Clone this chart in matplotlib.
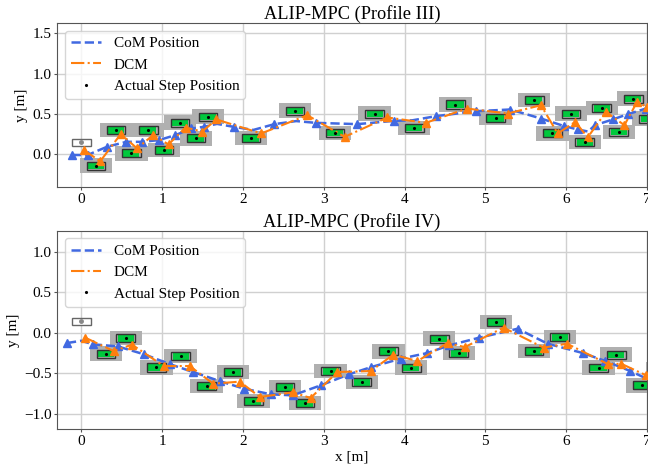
import matplotlib
matplotlib.use('Agg')
import matplotlib.pyplot as plt
from matplotlib.patches import Rectangle

plt.rcParams['font.family'] = ['Liberation Serif', 'DejaVu Serif']
plt.rcParams['font.size'] = 11

titles = ['ALIP-MPC (Profile III)', 'ALIP-MPC (Profile IV)']
legend_labels = ['CoM Position', 'DCM', 'Actual Step Position']
x_label = 'x [m]'
y_label = 'y [m]'

init_step_x = [0.0, 0.0]
init_step_y = [0.145, 0.14]

# ---------------- Profile III ----------------
top_step_x = [0.18, 0.43, 0.62, 0.83, 1.026, 1.22, 1.42, 1.57, 2.10, 2.645, 3.14, 3.63,
              4.12, 4.63, 5.126, 5.605, 5.83, 6.06, 6.23, 6.44, 6.65, 6.83, 7.02]
top_step_y = [-0.145, 0.30, 0.008, 0.30, 0.05, 0.39, 0.195, 0.465, 0.20, 0.54, 0.264, 0.504,
              0.326, 0.616, 0.446, 0.67, 0.256, 0.504, 0.15, 0.57, 0.276, 0.69, 0.44]

top_com_x = [-0.116, 0.078, 0.318, 0.558, 0.752, 0.958, 1.165, 1.363, 1.516, 1.68, 1.888,
             2.13, 2.39, 2.66, 2.90, 3.416, 3.87, 4.10, 4.387, 4.88, 5.307, 5.688, 5.977,
             6.142, 6.27, 6.357, 6.576, 6.762, 7.0]
top_com_y = [-0.012, -0.012, 0.09, 0.152, 0.152, 0.173, 0.235, 0.318, 0.338, 0.375, 0.338,
             0.30, 0.372, 0.41, 0.388, 0.372, 0.413, 0.42, 0.471, 0.533, 0.554, 0.442, 0.347,
             0.306, 0.28, 0.359, 0.43, 0.496, 0.57]
top_com_mark_x = [-0.116, 0.078, 0.318, 0.558, 0.752, 0.958, 1.165, 1.363, 1.516, 1.888,
                  2.39, 2.90, 3.416, 3.87, 4.387, 4.88, 5.307, 5.688, 5.977, 6.142, 6.357,
                  6.576, 6.762, 6.99]
top_com_mark_y = [-0.012, -0.012, 0.09, 0.152, 0.152, 0.173, 0.235, 0.318, 0.338, 0.338,
                  0.372, 0.388, 0.372, 0.413, 0.471, 0.533, 0.554, 0.442, 0.347, 0.306, 0.359,
                  0.43, 0.496, 0.566]

top_dcm_x = [0.03, 0.235, 0.49, 0.69, 0.888, 1.08, 1.29, 1.495, 1.673, 2.227, 2.797, 3.259,
             3.788, 4.263, 4.771, 5.275, 5.688, 5.895, 6.113, 6.266, 6.493, 6.72, 6.877, 7.0]
top_dcm_y = [0.05, -0.09, 0.25, 0.07, 0.235, 0.12, 0.33, 0.28, 0.43, 0.256, 0.483, 0.214,
             0.455, 0.388, 0.566, 0.504, 0.607, 0.256, 0.40, 0.207, 0.524, 0.359, 0.648, 0.586]

# ---------------- Profile IV ----------------
bot_step_x = [0.307, 0.55, 0.93, 1.23, 1.55, 1.88, 2.13, 2.52, 2.77, 3.085, 3.47, 3.80,
              4.083, 4.43, 4.67, 5.134, 5.60, 5.92, 6.40, 6.62, 6.94, 7.19]
bot_step_y = [-0.26, -0.066, -0.43, -0.29, -0.659, -0.486, -0.844, -0.67, -0.87, -0.474,
              -0.61, -0.231, -0.432, -0.074, -0.25, 0.131, -0.227, -0.054, -0.432, -0.272,
              -0.65, -0.45]

bot_com_x = [-0.177, 0.0, 0.145, 0.45, 0.78, 1.103, 1.384, 1.722, 2.011, 2.35, 2.618, 2.962,
             3.312, 3.59, 3.953, 4.284, 4.552, 4.923, 5.15, 5.399, 5.77, 6.204, 6.485, 6.794,
             7.0]
bot_com_y = [-0.128, -0.10, -0.144, -0.169, -0.268, -0.391, -0.486, -0.601, -0.691, -0.762,
             -0.774, -0.651, -0.515, -0.424, -0.321, -0.251, -0.157, -0.062, -0.01, 0.049,
             -0.136, -0.251, -0.35, -0.474, -0.57]
bot_com_mark_x = [-0.177, 0.145, 0.45, 0.78, 1.103, 1.384, 1.722, 2.011, 2.35, 2.618, 2.962,
                  3.312, 3.59, 3.953, 4.284, 4.552, 4.923, 5.399, 5.77, 6.204, 6.485, 6.794]
bot_com_mark_y = [-0.128, -0.144, -0.169, -0.268, -0.391, -0.486, -0.601, -0.691, -0.762,
                  -0.774, -0.651, -0.515, -0.424, -0.321, -0.251, -0.157, -0.062, 0.049,
                  -0.136, -0.251, -0.35, -0.474]

bot_dcm_x = [0.05, 0.40, 0.628, 1.02, 1.342, 1.632, 1.962, 2.21, 2.618, 2.838, 3.168, 3.581,
             3.862, 4.16, 4.532, 4.746, 5.225, 5.721, 6.01, 6.522, 6.679, 6.989]
bot_dcm_y = [-0.062, -0.227, -0.148, -0.412, -0.412, -0.63, -0.605, -0.795, -0.737, -0.807,
             -0.486, -0.474, -0.272, -0.35, -0.128, -0.178, 0.062, -0.185, -0.136, -0.391,
             -0.383, -0.527]

top_yticks = [0.0, 0.5, 1.0, 1.5]
bot_yticks = [-1.0, -0.5, 0.0, 0.5, 1.0]
xticks = [0, 1, 2, 3, 4, 5, 6, 7]

COM_C = '#4169e1'
DCM_C = '#ff7f0e'
GRAY = '#b0b0b0'
GREEN = '#00c83c'


def draw(ax, sx, sy, ix, iy, cx, cy, cmx, cmy, dx, dy, title, ylim, yticks):
    for x, y in zip(sx, sy):
        ax.add_patch(Rectangle((x - 0.2, y - 0.09), 0.4, 0.18, fc=GRAY, ec='none', zorder=1))
    for x, y in zip(sx, sy):
        ax.add_patch(Rectangle((x - 0.1, y - 0.045), 0.2, 0.09, fc=GREEN, ec='none', zorder=2))
    for x, y in zip(sx, sy):
        ax.add_patch(Rectangle((x - 0.115, y - 0.05), 0.23, 0.1, fc='none', ec='#333333',
                               lw=1.0, zorder=3))
    ax.add_patch(Rectangle((ix - 0.115, iy - 0.042), 0.23, 0.084, fc='white', ec='#666666',
                           lw=1.0, zorder=3))
    ax.plot([ix], [iy], 'o', color='#888888', ms=2.5, zorder=5)

    ax.plot(cx, cy, '--', color=COM_C, lw=1.8, label=legend_labels[0], zorder=4)
    ax.plot(cmx, cmy, '^', color=COM_C, ms=5.5, ls='none', zorder=4)
    ax.plot(dx, dy, '-.', color=DCM_C, lw=1.5, label=legend_labels[1], zorder=4)
    ax.plot(dx, dy, '^', color=DCM_C, ms=5.5, ls='none', zorder=4)
    ax.plot(sx, sy, '.', color='black', ms=2.5, ls='none', label=legend_labels[2], zorder=5)

    ax.set_xlim(-0.3, 7.0)
    ax.set_ylim(*ylim)
    ax.set_xticks(xticks)
    ax.set_yticks(yticks)
    ax.tick_params(length=2, pad=2, color='#555555')
    ax.grid(True, color='#d0d0d0', lw=1.0)
    ax.set_axisbelow(True)
    for sp in ax.spines.values():
        sp.set_color('#555555')
    ax.set_title(title, fontsize=13.2, pad=2)
    ax.set_ylabel(y_label, labelpad=3)
    ax.legend(loc='upper left', framealpha=0.8)


fig = plt.figure(figsize=(6.48, 4.66), dpi=100)
ax1 = fig.add_axes([57 / 648, (466 - 187) / 466, 590 / 648, 164 / 466])
ax2 = fig.add_axes([57 / 648, (466 - 429) / 466, 590 / 648, 198.3 / 466])

draw(ax1, top_step_x, top_step_y, init_step_x[0], init_step_y[0], top_com_x, top_com_y,
     top_com_mark_x, top_com_mark_y, top_dcm_x, top_dcm_y, titles[0], (-0.41, 1.63), top_yticks)
draw(ax2, bot_step_x, bot_step_y, init_step_x[1], init_step_y[1], bot_com_x, bot_com_y,
     bot_com_mark_x, bot_com_mark_y, bot_dcm_x, bot_dcm_y, titles[1], (-1.19, 1.26), bot_yticks)
ax2.set_xlabel(x_label, labelpad=2)

fig.savefig('out.png', dpi=100)
